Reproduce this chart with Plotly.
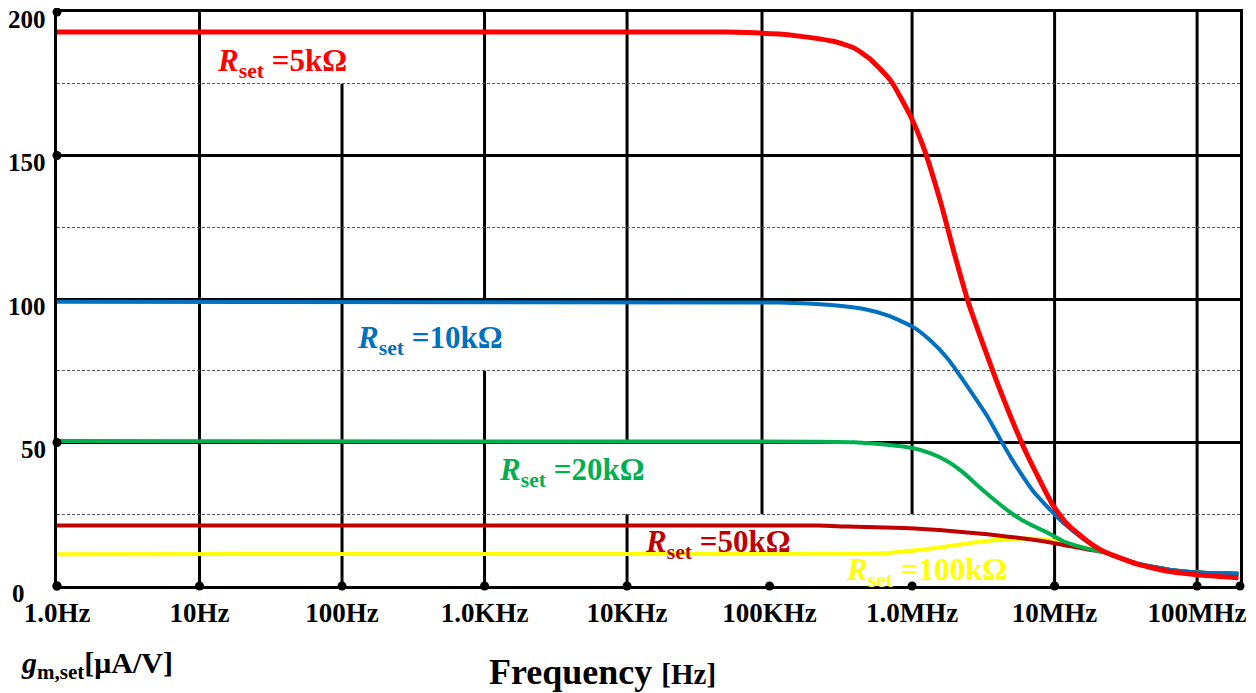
import math
import plotly.graph_objects as go

# ---------------- data ----------------
red_freq = [1, 5.0e4, 1.17e5, 1.6e5, 2.8e5, 3.9e5, 5.1e5, 7.1e5, 9.8e5, 1.2e6, 1.58e6,
            2.0e6, 2.51e6, 3.16e6, 3.98e6, 5.01e6, 6.31e6, 7.94e6, 9.77e6, 1.23e7, 1.7e7,
            2.2e7, 3.8e7, 6.5e7, 1.1e8, 1.95e8]
red_gm = [193.0, 193.0, 192.3, 191.6, 189.8, 187.5, 183.5, 176.0, 163.5, 153.0, 134.0,
          115.0, 98.0, 84.0, 70.5, 58.0, 46.5, 36.5, 28.0, 21.5, 15.6,
          12.1, 7.6, 5.0, 3.7, 2.9]

blue_freq = [1, 1.17e5, 2.7e5, 4.6e5, 6.8e5, 1.02e6, 1.34e6, 1.78e6, 2.19e6, 2.69e6, 3.39e6,
             4.17e6, 4.9e6, 5.75e6, 7.08e6, 9.33e6, 1.15e7, 1.58e7, 2.2e7, 3.8e7, 6.5e7,
             1.1e8, 1.95e8]
blue_gm = [99.0, 98.8, 97.9, 96.5, 94.2, 90.2, 85.6, 79.2, 73.0, 66.5, 59.0,
           51.0, 45.0, 39.5, 33.0, 26.5, 22.0, 16.5, 12.0, 7.8, 5.6,
           4.6, 4.3]

green_freq = [1, 2.2e5, 3.9e5, 6.7e5, 1.02e6, 1.34e6, 1.78e6, 2.3e6, 3.0e6, 4.0e6, 5.1e6,
              6.7e6, 8.9e6, 1.15e7, 1.7e7, 2.2e7, 3.8e7, 6.5e7, 1.1e8, 1.95e8]
green_gm = [50.5, 50.3, 50.1, 49.2, 48.0, 46.3, 43.4, 39.4, 34.2, 29.0, 25.0,
            21.5, 18.6, 15.6, 13.0, 11.8, 7.8, 5.6, 4.6, 4.3]

darkred_freq = [1, 2.2e5, 3.5e5, 8.7e5, 1.94e6, 3.4e6, 5.7e6, 9.8e6, 1.7e7, 2.2e7, 3.8e7,
                6.5e7, 1.1e8, 1.95e8]
darkred_gm = [21.1, 21.1, 20.7, 20.2, 19.1, 18.0, 16.7, 15.0, 12.7, 11.8, 7.8,
              5.6, 4.6, 4.3]

yellow_freq = [1, 4.8e5, 6.7e5, 1.5e6, 2.55e6, 4.35e6, 7.5e6, 9.8e6, 1.35e7, 2.2e7, 3.8e7,
               6.5e7, 1.1e8, 1.95e8]
yellow_gm = [11.1, 11.2, 11.5, 13.3, 15.0, 16.2, 16.5, 15.8, 14.2, 11.8, 7.8,
             5.6, 4.6, 4.3]

series_names = ["Rset=100kΩ", "Rset=50kΩ", "Rset=20kΩ", "Rset=10kΩ", "Rset=5kΩ"]
series_labels = ["=100kΩ", "=50kΩ", "=20kΩ", "=10kΩ", "=5kΩ"]

x_tick_vals = [1, 10, 100, 1e3, 1e4, 1e5, 1e6, 1e7, 1e8]
x_tick_text = ["1.0Hz", "10Hz", "100Hz", "1.0KHz", "10KHz", "100KHz", "1.0MHz", "10MHz", "100MHz"]
x_max = 2e8
y_tick_vals = [0, 50, 100, 150, 200]
y_tick_text = ["0", "50", "100", "150", "200"]
y_dot_vals = [0, 50, 150, 200]

# ---------------- styling ----------------
colors = ["#FFFF00", "#C00000", "#00B050", "#0070C0", "#FF0000"]
widths = [4, 4, 4, 4, 5]
FONT = "Liberation Serif"

series_freq = [yellow_freq, darkred_freq, green_freq, blue_freq, red_freq]
series_gm = [yellow_gm, darkred_gm, green_gm, blue_gm, red_gm]

fig = go.Figure()

for name, fx, gy, c, w in zip(series_names, series_freq, series_gm, colors, widths):
    fig.add_trace(go.Scatter(x=fx, y=gy, mode="lines", name=name,
                             line=dict(color=c, width=w, shape="spline", smoothing=0.5),
                             hoverinfo="x+y", showlegend=False))

# axis dots
fig.add_trace(go.Scatter(x=x_tick_vals + [x_max], y=[0] * (len(x_tick_vals) + 1), mode="markers",
                         marker=dict(color="black", size=9), cliponaxis=False,
                         showlegend=False, hoverinfo="skip"))
fig.add_trace(go.Scatter(x=[1] * len(y_dot_vals), y=y_dot_vals, mode="markers",
                         marker=dict(color="black", size=9), cliponaxis=False,
                         showlegend=False, hoverinfo="skip"))

# vertical grid segments (the reference grid is broken in places)
v_segments = [
    (10, 0, 200), (100, 0, 175), (1e3, 0, 75), (1e3, 100, 200),
    (1e4, 0, 25), (1e4, 50, 200), (8.85e4, 25, 200), (1e6, 25, 200),
    (1e7, 0, 200), (1e8, 0, 200),
]
shapes = []
for xv, ya, yb in v_segments:
    shapes.append(dict(type="line", xref="x", yref="y", x0=xv, x1=xv, y0=ya, y1=yb,
                       line=dict(color="black", width=3), layer="below"))

annotations = []
# y tick labels
for v, t in zip(y_tick_vals, y_tick_text):
    annotations.append(dict(xref="paper", yref="y", x=0, y=v, text="<b>%s</b>" % t,
                            showarrow=False, xanchor="right", yanchor="middle",
                            xshift=(-30 if v == 0 else -9), yshift=-7,
                            font=dict(family=FONT, size=25, color="black")))

# curve labels  (x given in log10 units for annotations on a log axis)
label_pos = [(5.52, 5.0), (4.11, 14.8), (3.09, 39.6), (2.09, 85.8), (1.11, 182.3)]
for (lx, ly), txt, c in zip(label_pos, series_labels, colors):
    annotations.append(dict(xref="x", yref="y", x=lx, y=ly, xanchor="left", yanchor="middle",
                            showarrow=False,
                            text="<b><i>R</i><sub>set</sub> %s</b>" % txt,
                            font=dict(family=FONT, size=31, color=c)))

# axis titles
annotations.append(dict(xref="paper", yref="paper", x=-0.032, y=-0.137, xanchor="left",
                        yanchor="middle", showarrow=False,
                        text="<b><i>g</i><sub>m,set</sub>[μA/V]</b>",
                        font=dict(family=FONT, size=30, color="black")))
annotations.append(dict(xref="paper", yref="paper", x=0.4607, y=-0.15, xanchor="center",
                        yanchor="middle", showarrow=False,
                        text="<b>Frequency <span style='font-size:29px'>[Hz]</span></b>",
                        font=dict(family=FONT, size=36, color="black")))

# the page body adds an 8px offset, so the figure is sized to fill the window exactly
fig.update_layout(
    width=1248, height=685,
    margin=dict(l=49, r=16, t=1, b=107),
    paper_bgcolor="white", plot_bgcolor="white",
    shapes=shapes, annotations=annotations,
    xaxis=dict(type="log", range=[0, math.log10(x_max)],
               tickvals=x_tick_vals, ticktext=["<b>%s</b>" % t for t in x_tick_text],
               tickfont=dict(family=FONT, size=27, color="black"),
               showgrid=False, zeroline=False, showline=True, linecolor="black",
               linewidth=3, mirror=True, ticks="", ticklabelstandoff=1),
    yaxis=dict(range=[0, 200], tick0=0, dtick=50, showticklabels=False,
               showgrid=True, gridcolor="black", gridwidth=3, zeroline=False,
               showline=True, linecolor="black", linewidth=3, mirror=True, ticks="",
               minor=dict(tick0=0, dtick=25, showgrid=True, gridcolor="#555555",
                          gridwidth=1, griddash="3px,2px")),
)

fig.write_html("out.html")
